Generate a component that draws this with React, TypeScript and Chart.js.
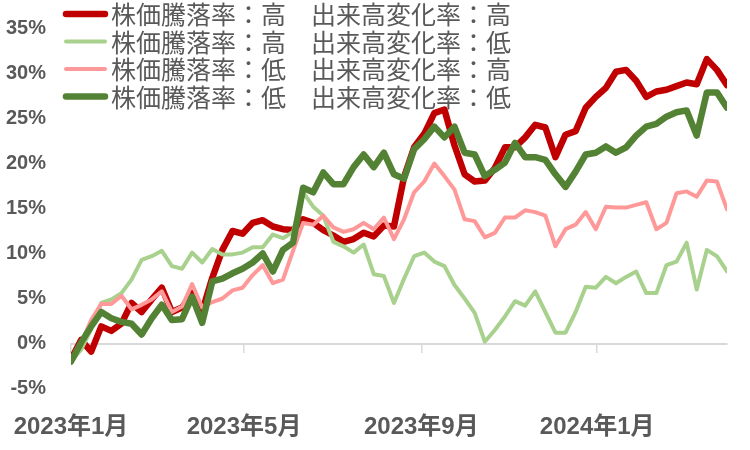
import { useEffect, useRef } from 'react';
import { Chart, registerables } from 'chart.js';

Chart.register(...registerables);

// Weekly observation dates
const dates = [
  '2023-01-06', '2023-01-13', '2023-01-20', '2023-01-27',
  '2023-02-03', '2023-02-10', '2023-02-17', '2023-02-24',
  '2023-03-03', '2023-03-10', '2023-03-17', '2023-03-24', '2023-03-31',
  '2023-04-07', '2023-04-14', '2023-04-21', '2023-04-28',
  '2023-05-05', '2023-05-12', '2023-05-19', '2023-05-26',
  '2023-06-02', '2023-06-09', '2023-06-16', '2023-06-23', '2023-06-30',
  '2023-07-07', '2023-07-14', '2023-07-21', '2023-07-28',
  '2023-08-04', '2023-08-11', '2023-08-18', '2023-08-25',
  '2023-09-01', '2023-09-08', '2023-09-15', '2023-09-22', '2023-09-29',
  '2023-10-06', '2023-10-13', '2023-10-20', '2023-10-27',
  '2023-11-03', '2023-11-10', '2023-11-17', '2023-11-24',
  '2023-12-01', '2023-12-08', '2023-12-15', '2023-12-22', '2023-12-29',
  '2024-01-05', '2024-01-12', '2024-01-19', '2024-01-26',
  '2024-02-02', '2024-02-09', '2024-02-16', '2024-02-23',
  '2024-03-01', '2024-03-08', '2024-03-15', '2024-03-22', '2024-03-29',
  '2024-04-05',
];

const tickDates = ['2023-01-06', '2023-05-06', '2023-09-06', '2024-01-06'];
const tickLabels = ['2023年1月', '2023年5月', '2023年9月', '2024年1月'];
const yTicks = [-5, 0, 5, 10, 15, 20, 25, 30, 35];

const seriesNames = [
  '株価騰落率：高　出来高変化率：高',
  '株価騰落率：高　出来高変化率：低',
  '株価騰落率：低　出来高変化率：高',
  '株価騰落率：低　出来高変化率：低',
];

// 株価騰落率：高 / 出来高変化率：高 (%)
const highHigh = [
  -1.8, 0.4, -0.9, 1.9, 1.4, 2.2, 4.5, 3.5, 4.9, 6.2,
  3.5, 4.0, 5.6, 3.6, 7.3, 10.4, 12.5, 12.2, 13.4, 13.7,
  13.0, 12.7, 12.6, 13.8, 13.4, 12.6, 12.0, 11.3, 11.6, 12.3,
  11.9, 13.1, 13.0, 18.5, 21.8, 23.3, 25.6, 26.0, 22.0, 18.8,
  18.0, 18.1, 19.5, 21.8, 21.8, 22.9, 24.3, 24.0, 20.7, 23.2,
  23.6, 26.2, 27.4, 28.4, 30.2, 30.4, 29.2, 27.4, 28.0, 28.2,
  28.6, 29.0, 28.8, 31.6, 30.4, 28.7,
];

// 株価騰落率：高 / 出来高変化率：低 (%)
const highLow = [
  -2.0, -0.7, 1.6, 4.5, 4.9, 5.6, 7.1, 9.3, 9.7, 10.3,
  8.6, 8.3, 10.1, 9.0, 10.5, 9.9, 9.9, 10.1, 10.7, 10.7,
  12.1, 11.7, 12.4, 16.8, 15.2, 14.2, 11.3, 10.8, 10.1, 11.0,
  7.7, 7.5, 4.5, 7.2, 9.7, 10.1, 9.1, 8.6, 6.5, 5.0,
  3.4, 0.2, 1.5, 3.0, 4.7, 4.2, 5.8, 3.5, 1.2, 1.2,
  3.5, 6.3, 6.2, 7.4, 6.7, 7.4, 8.0, 5.6, 5.6, 8.7,
  9.1, 11.2, 6.0, 10.4, 9.7, 8.0,
];

// 株価騰落率：低 / 出来高変化率：高 (%)
const lowHigh = [
  -2.0, 0.0, 2.6, 4.4, 4.4, 5.3, 3.8, 4.3, 4.9, 5.8,
  3.5, 4.1, 6.6, 4.0, 4.6, 5.0, 5.9, 6.2, 7.6, 8.7,
  6.7, 7.1, 10.3, 13.4, 13.2, 14.2, 12.9, 12.4, 12.7, 13.4,
  12.7, 14.0, 11.6, 13.8, 16.8, 18.0, 20.0, 18.6, 17.1, 13.8,
  13.6, 11.8, 12.3, 14.0, 14.0, 14.8, 14.6, 14.2, 10.8, 12.7,
  13.2, 14.6, 12.7, 15.2, 15.1, 15.1, 15.4, 15.7, 12.7, 13.4,
  16.7, 16.9, 16.3, 18.1, 18.0, 14.9,
];

// 株価騰落率：低 / 出来高変化率：低 (%)
const lowLow = [
  -2.0, 0.1, 1.9, 3.5, 2.8, 2.4, 2.2, 1.0, 2.8, 4.3,
  2.6, 2.7, 5.2, 2.3, 6.9, 7.2, 7.8, 8.3, 9.0, 10.0,
  8.0, 10.4, 11.2, 17.3, 16.8, 19.0, 17.7, 17.7, 19.6, 21.0,
  19.6, 21.2, 18.8, 18.3, 21.6, 22.7, 24.1, 22.9, 24.1, 21.2,
  21.0, 18.6, 19.3, 20.1, 22.3, 20.7, 20.7, 20.4, 18.8, 17.4,
  19.1, 21.0, 21.2, 21.9, 21.2, 21.8, 23.1, 24.1, 24.4, 25.2,
  25.7, 25.9, 23.1, 27.9, 27.9, 26.2,
];

const DAY_MS = 86400000;
const dayOffset = (d: string) => (Date.parse(d) - Date.parse(dates[0])) / DAY_MS;

export default function App() {
  const canvasRef = useRef<HTMLCanvasElement>(null);

  useEffect(() => {
    if (!canvasRef.current) return;
    const textColor = '#595959';
    const axisColor = '#D9D9D9';
    const toPoints = (vals: number[]) => vals.map((v, i) => ({ x: dayOffset(dates[i]), y: v }));
    const tickValues = tickDates.map(dayOffset);
    const xMax = dayOffset(dates[dates.length - 1]);
    const setTicks = (scale: any) => {
      scale.ticks = tickValues.map((v) => ({ value: v }));
    };

    const legendPlugin = {
      id: 'stackedLegend',
      afterDraw(chart: any) {
        const ctx = chart.ctx as CanvasRenderingContext2D;
        ctx.save();
        chart.data.datasets.forEach((ds: any, i: number) => {
          const y = 14 + i * 27.5;
          ctx.beginPath();
          ctx.lineCap = 'round';
          ctx.lineWidth = ds.borderWidth;
          ctx.strokeStyle = ds.borderColor;
          ctx.moveTo(66, y);
          ctx.lineTo(105, y);
          ctx.stroke();
          ctx.fillStyle = textColor;
          ctx.font = "25px 'Noto Sans CJK JP', sans-serif";
          ctx.textBaseline = 'middle';
          ctx.textAlign = 'left';
          ctx.fillText(ds.label, 111, y + 0.5);
        });
        ctx.restore();
      },
    };

    const lineBase = {
      pointRadius: 0,
      pointHoverRadius: 0,
      tension: 0,
      borderJoinStyle: 'round' as const,
      borderCapStyle: 'round' as const,
      fill: false,
    };

    const chart = new Chart(canvasRef.current, {
      type: 'line',
      data: {
        datasets: [
          { ...lineBase, label: seriesNames[0], data: toPoints(highHigh), borderColor: '#C00000', backgroundColor: '#C00000', borderWidth: 6.5, order: 4 },
          { ...lineBase, label: seriesNames[1], data: toPoints(highLow), borderColor: '#A9D18E', backgroundColor: '#A9D18E', borderWidth: 4, order: 3 },
          { ...lineBase, label: seriesNames[2], data: toPoints(lowHigh), borderColor: '#FF9999', backgroundColor: '#FF9999', borderWidth: 4, order: 2 },
          { ...lineBase, label: seriesNames[3], data: toPoints(lowLow), borderColor: '#548235', backgroundColor: '#548235', borderWidth: 6.5, order: 1 },
        ],
      },
      options: {
        animation: false,
        responsive: true,
        maintainAspectRatio: false,
        layout: { padding: { top: 28.5, right: 23, bottom: 0, left: 0 } },
        plugins: {
          legend: { display: false },
          tooltip: { enabled: false },
        },
        scales: {
          x: {
            type: 'linear',
            position: 'bottom',
            min: 0,
            max: xMax,
            afterBuildTicks: setTicks,
            afterFit: (scale: any) => { scale.height = 61.5; },
            grid: { display: false, drawTicks: true, tickLength: 24 },
            border: { display: false },
            ticks: {
              autoSkip: false,
              maxRotation: 0,
              padding: 0,
              color: textColor,
              font: { family: "'Liberation Sans', 'Noto Sans CJK JP', sans-serif", size: 24, weight: 'bold' },
              callback: (value: any) => {
                const idx = tickValues.indexOf(Number(value));
                return idx >= 0 ? tickLabels[idx] : '';
              },
            },
          },
          xZero: {
            type: 'linear',
            axis: 'x',
            position: { y: 0 },
            min: 0,
            max: xMax,
            afterBuildTicks: setTicks,
            grid: {
              display: true,
              drawOnChartArea: false,
              drawTicks: true,
              tickLength: 8,
              color: axisColor,
              lineWidth: 1.5,
            },
            border: { display: true, color: axisColor, width: 2 },
            ticks: { display: false },
          },
          y: {
            type: 'linear',
            min: -5,
            max: 35,
            afterBuildTicks: (scale: any) => {
              scale.ticks = yTicks.map((v) => ({ value: v }));
            },
            afterFit: (scale: any) => { scale.width = 71; },
            grid: { display: false, drawTicks: true, tickLength: 25 },
            border: { display: false },
            ticks: {
              padding: 0,
              color: textColor,
              font: { family: "'Liberation Sans', sans-serif", size: 20, weight: 'bold' },
              callback: (value: any) => `${value}%`,
            },
          },
        },
      },
      plugins: [legendPlugin],
    } as any);

    return () => chart.destroy();
  }, []);

  return (
    <div style={{ position: 'fixed', left: 0, top: 0, width: 750, height: 450, background: '#ffffff' }}>
      <canvas ref={canvasRef} />
    </div>
  );
}
